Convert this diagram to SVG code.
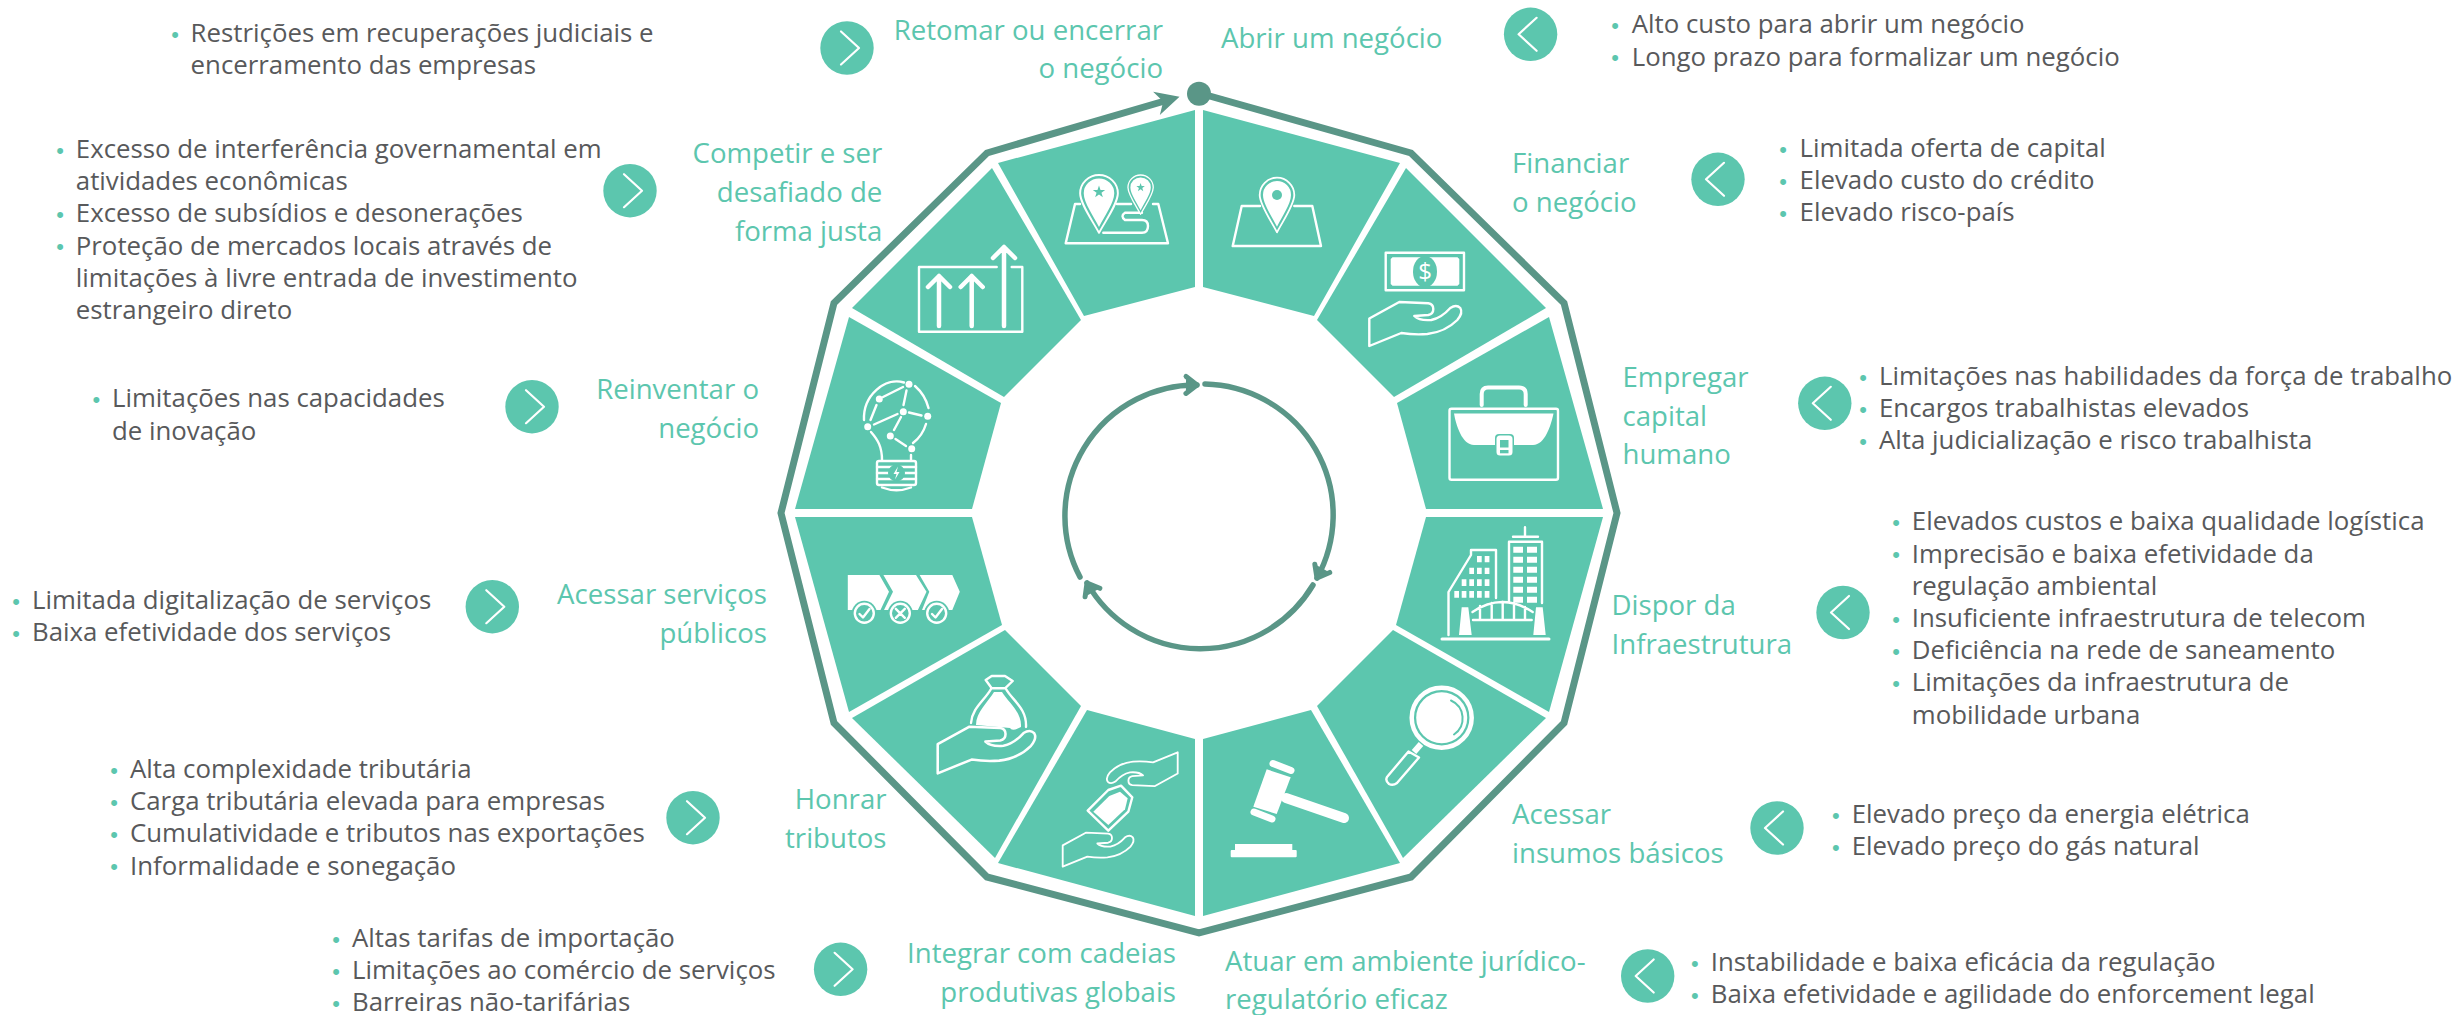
<svg xmlns="http://www.w3.org/2000/svg" xmlns:xlink="http://www.w3.org/1999/xlink" width="2461" height="1015" viewBox="0 0 2461 1015">
<style>
text{font-family:"Open Sans","Noto Sans",sans-serif}
.b{font-size:25.8px;fill:#58595b}
.d{font-size:22px;fill:#5cc6ae;text-anchor:middle;font-family:"Liberation Sans",sans-serif}
.l{font-size:27.6px;fill:#5cc6ae}
.e{text-anchor:end}
.s{fill:#5cc6ae}
.w{fill:none;stroke:#fff;stroke-width:2.4;stroke-linecap:round;stroke-linejoin:round}
.t{stroke:none;fill:#fff}
.g{stroke:none;fill:#5cc6ae}
.c{fill:#5cc6ae}
.v{fill:none;stroke:#fff;stroke-width:2.2;stroke-linecap:round;stroke-linejoin:round}
.o{fill:none;stroke:#5a9687;stroke-width:7;stroke-linejoin:miter}
.a{fill:none;stroke:#5a9687;stroke-width:5.5;stroke-linecap:round}
</style>
<defs>
<marker id="chev" viewBox="-16 -12 20 24" markerWidth="20" markerHeight="24" refX="0" refY="0" markerUnits="userSpaceOnUse" orient="auto" overflow="visible"><path d="M-11,-8.5 L0,0 L-11,8.5" fill="#5a9687" stroke="#5a9687" stroke-width="5" stroke-linecap="round" stroke-linejoin="round"/></marker>
<marker id="head" viewBox="-14 -14 28 28" markerWidth="28" markerHeight="28" refX="0" refY="0" markerUnits="userSpaceOnUse" orient="auto" overflow="visible"><path d="M12,0 L-12,-12 L-5,0 L-12,12Z" fill="#5a9687"/></marker>
<path id="hand" d="M0 44V16.5L30 0L59 1.3Q64 2 64 7Q64 12 59 13L45 14Q50 19 62 18Q72 16 81 6Q87 2 91 6Q94 11 88 18Q76 30 58 32Q45 33 32 31Z"/>
<g id="pin"><path d="M0 54.6C-6 43-17.3 27-17.3 17.3A17.3 17.3 0 0 1 17.3 17.3C17.3 27 6 43 0 54.6Z" fill="#5cc6ae" stroke="#fff" stroke-width="1.8" stroke-linejoin="round"/><path d="M0 49C-5 39-14 26-14 17.3A14 14 0 0 1 14 17.3C14 26 5 39 0 49Z" fill="#fff"/></g>
<path id="star" d="M0-1L.235-.324L.95-.31L.38 .124L.59 .81L0 .4L-.59 .81L-.38 .124L-.95-.31L-.235-.324Z" fill="#5cc6ae"/>
<path id="cr" d="M-6-16.5L12 0L-6 16.5"/>
<path id="cl" d="M6-16.5L-12 0L6 16.5"/>
</defs>
<rect width="2461" height="1015" fill="#fff"/>
<g id="connectors">
<path class="o" d="M1199,93 L1411,153 L1564,303 L1617,513 L1564,723 L1411,877 L1199,933 L987,877 L834,723 L781,513 L834,303 L987,153 L1168,100" marker-end="url(#head)"/>
<circle cx="1199" cy="93.7" r="12" fill="#5a9687"/>
<path class="a" d="M1205,384 A131,131 0 0 1 1317,578" marker-end="url(#chev)"/>
<path class="a" d="M1313,585 A131,131 0 0 1 1087,583" marker-end="url(#chev)"/>
<path class="a" d="M1080,577 A131,131 0 0 1 1197,385" marker-end="url(#chev)"/>
</g>
<g id="node-abrir">
<polygon class="s" points="1203,110 1400,163 1314,316 1203,287"/>
<path class="w" d="M1260,206H1241.7L1232.7,246H1321L1312.3,206H1294.3"/>
<use xlink:href="#pin" href="#pin" x="1277" y="177.7"/>
<circle class="g" cx="1277" cy="195" r="5"/>
<text class="l" x="1221" y="48">Abrir um negócio</text>
<circle class="c" cx="1530.6" cy="34.3" r="26.7"/><use xlink:href="#cl" href="#cl" class="v" x="1530.6" y="34.3"/>
<text class="d" x="1615" y="33">•</text><text class="b" x="1631.7" y="33.3">Alto custo para abrir um negócio</text>
<text class="d" x="1615" y="65">•</text><text class="b" x="1631.7" y="65.5">Longo prazo para formalizar um negócio</text>
</g>
<g id="node-financiar">
<polygon class="s" points="1406,168 1546,308 1394,397 1317,320"/>
<rect class="w" x="1385.7" y="252.7" width="78.3" height="37.6"/>
<path class="t" d="M1392.5,257.3H1457.5L1459.3,259V284L1457.5,285.7H1392.5L1390.7,284V259Z"/>
<ellipse class="g" cx="1425" cy="271.7" rx="12" ry="15.7"/>
<text x="1425" y="280" font-size="24" fill="#fff" text-anchor="middle">$</text>
<use xlink:href="#hand" href="#hand" class="w" transform="translate(1369.3,302)"/>
<text class="l" x="1512" y="173.3">Financiar</text><text class="l" x="1512" y="211.7">o negócio</text>
<circle class="c" cx="1718" cy="179.3" r="26.7"/><use xlink:href="#cl" href="#cl" class="v" x="1718" y="179.3"/>
<text class="d" x="1783" y="156.5">•</text><text class="b" x="1799.6" y="156.7">Limitada oferta de capital</text>
<text class="d" x="1783" y="188.7">•</text><text class="b" x="1799.6" y="188.9">Elevado custo do crédito</text>
<text class="d" x="1783" y="220.9">•</text><text class="b" x="1799.6" y="221.1">Elevado risco-país</text>
</g>
<g id="node-empregar">
<polygon class="s" points="1549,317 1603,509 1426,509 1397,403"/>
<rect class="w" x="1449.5" y="408.8" width="108.5" height="71" rx="2"/>
<path class="w" style="stroke-width:4" d="M1481.7,405V394Q1481.7,387.5 1488,387.5H1519Q1525.7,387.5 1525.7,394V405"/>
<path class="t" d="M1454,413.5H1553.5C1551,425 1545,445 1533,445H1474C1462,445 1456,425 1454,413.5Z"/>
<rect x="1495" y="434" width="19" height="23" rx="4" fill="#5cc6ae"/>
<rect x="1496.5" y="435.5" width="16" height="20" rx="3.5" fill="#fff"/>
<rect class="g" x="1500" y="440" width="8.5" height="7.5"/><rect class="g" x="1500" y="450" width="8.5" height="3.3"/>
<text class="l" x="1622.5" y="387">Empregar</text><text class="l" x="1622.5" y="425.5">capital</text><text class="l" x="1622.5" y="464">humano</text>
<circle class="c" cx="1824.8" cy="403.3" r="26.7"/><use xlink:href="#cl" href="#cl" class="v" x="1824.8" y="403.3"/>
<text class="d" x="1863" y="385">•</text><text class="b" x="1879" y="385">Limitações nas habilidades da força de trabalho</text>
<text class="d" x="1863" y="417">•</text><text class="b" x="1879" y="417.2">Encargos trabalhistas elevados</text>
<text class="d" x="1863" y="449">•</text><text class="b" x="1879" y="449.4">Alta judicialização e risco trabalhista</text>
</g>
<g id="node-dispor">
<polygon class="s" points="1603,517 1426,517 1396,625 1549,712"/>
<path class="w" d="M1448.5,635V592L1471,555V550H1496V598"/>
<path class="w" d="M1509,601V541.7H1542V603M1513,536.7H1538M1525,527.3V536.7"/>
<path class="t" d="M1513.3,546.7h9.7v6h-9.7zM1527,546.7h10v6h-10zM1513.3,556.7h9.7v6h-9.7zM1527,556.7h10v6h-10zM1513.3,566.7h9.7v6h-9.7zM1527,566.7h10v6h-10zM1513.3,576.7h9.7v6h-9.7zM1527,576.7h10v6h-10zM1513.3,586.7h9.7v6h-9.7zM1527,586.7h10v6h-10zM1513.3,596.7h9.7v6h-9.7zM1527,596.7h10v6h-10z"/>
<path class="t" d="M1477,556h4.7v6.3h-4.7zM1484.7,556h4.7v6.3h-4.7zM1469.3,567.7h4.7v6.3h-4.7zM1477,567.7h4.7v6.3h-4.7zM1484.7,567.7h4.7v6.3h-4.7zM1461.7,579.3h4.7v6.7h-4.7zM1469.3,579.3h4.7v6.7h-4.7zM1477,579.3h4.7v6.7h-4.7zM1484.7,579.3h4.7v6.7h-4.7zM1454.3,591h4.7v6.7h-4.7zM1461.7,591h4.7v6.7h-4.7zM1469.3,591h4.7v6.7h-4.7zM1477,591h4.7v6.7h-4.7zM1484.7,591h4.7v6.7h-4.7z"/>
<path class="t" d="M1461.7,607.3H1468.3L1471.7,635H1459ZM1536,607.3H1542.7L1545.7,635H1533.3Z"/>
<path class="w" d="M1472.5,612Q1502,592 1532.7,612M1473,620H1531.7M1480,606V620M1491.7,603V620M1502.7,602V620M1514,603V620M1525,607V620"/>
<path class="w" style="stroke-width:3" d="M1442,639H1549"/>
<text class="l" x="1611.5" y="615">Dispor da</text><text class="l" x="1611.5" y="653.5">Infraestrutura</text>
<circle class="c" cx="1843" cy="612.5" r="26.7"/><use xlink:href="#cl" href="#cl" class="v" x="1843" y="612.5"/>
<text class="d" x="1896" y="530">•</text><text class="b" x="1911.8" y="530.3">Elevados custos e baixa qualidade logística</text>
<text class="d" x="1896" y="562">•</text><text class="b" x="1911.8" y="562.5">Imprecisão e baixa efetividade da</text>
<text class="b" x="1911.8" y="594.7">regulação ambiental</text>
<text class="d" x="1896" y="627">•</text><text class="b" x="1911.8" y="627">Insuficiente infraestrutura de telecom</text>
<text class="d" x="1896" y="659">•</text><text class="b" x="1911.8" y="659.2">Deficiência na rede de saneamento</text>
<text class="d" x="1896" y="691">•</text><text class="b" x="1911.8" y="691.4">Limitações da infraestrutura de</text>
<text class="b" x="1911.8" y="723.6">mobilidade urbana</text>
</g>
<g id="node-insumos">
<polygon class="s" points="1546,718 1393,630 1317,706 1403,858"/>
<circle cx="1441.7" cy="717.7" r="30" fill="none" stroke="#fff" stroke-width="4.5"/>
<circle cx="1441.7" cy="717.7" r="25.5" fill="#fff"/>
<path d="M1451,700.5A19.5,19.5 0 0 1 1454,734.5" fill="none" stroke="#5cc6ae" stroke-width="2" stroke-linecap="round"/>
<path d="M1421,744L1414,752" stroke="#fff" stroke-width="6"/>
<path class="w" d="M1408.5,751.5L1419,757.5L1397,783Q1393,786 1389,784Q1385,781 1387,777Z"/>
<text class="l" x="1512" y="823.5">Acessar</text><text class="l" x="1512" y="862.5">insumos básicos</text>
<circle class="c" cx="1777" cy="828" r="26.7"/><use xlink:href="#cl" href="#cl" class="v" x="1777" y="828"/>
<text class="d" x="1835.8" y="822.5">•</text><text class="b" x="1851.7" y="822.5">Elevado preço da energia elétrica</text>
<text class="d" x="1835.8" y="854.5">•</text><text class="b" x="1851.7" y="854.7">Elevado preço do gás natural</text>
</g>
<g id="node-atuar">
<polygon class="s" points="1311,710 1400,863 1203,916 1203,739"/>
<path class="t" d="M1266.7,769.3L1290.7,777.3L1276.7,814L1253.3,806.7Z"/>
<path d="M1273,763.5L1291,770.5M1254,812L1272,819" stroke="#fff" stroke-width="7" stroke-linecap="round" fill="none"/>
<path d="M1286,798L1344,818" stroke="#fff" stroke-width="10" stroke-linecap="round" fill="none"/>
<path class="t" d="M1235,844H1292.3V850H1295.7Q1296.7,850 1296.7,851V856.3Q1296.7,857.3 1295.7,857.3H1231.7Q1230.7,857.3 1230.7,856.3V851Q1230.7,850 1231.7,850H1235Z"/>
<text class="l" x="1225" y="970.7">Atuar em ambiente jurídico-</text><text class="l" x="1225" y="1009">regulatório eficaz</text>
<circle class="c" cx="1647.7" cy="976" r="26.7"/><use xlink:href="#cl" href="#cl" class="v" x="1647.7" y="976"/>
<text class="d" x="1694.9" y="970.5">•</text><text class="b" x="1710.8" y="970.8">Instabilidade e baixa eficácia da regulação</text>
<text class="d" x="1694.9" y="1002.7">•</text><text class="b" x="1710.8" y="1003">Baixa efetividade e agilidade do enforcement legal</text>
</g>
<g id="node-integrar">
<polygon class="s" points="1087,710 998,863 1195,916 1195,739"/>
<use xlink:href="#hand" href="#hand" class="w" transform="translate(1177.7,786.2) rotate(180) scale(.77)"/>
<use xlink:href="#hand" href="#hand" class="w" transform="translate(1062.7,832.7) scale(.77)"/>
<path class="w" d="M1087.7,810.7L1108.3,830.7L1128.3,811.7L1132.3,797.3L1121,785.7L1108.3,790Z"/>
<path class="t" d="M1093.3,811.7L1108.3,825L1125,809.3L1127.7,798.3L1120,791.7L1109.3,796Z"/>
<text class="l e" x="1176" y="963">Integrar com cadeias</text><text class="l e" x="1176" y="1001.5">produtivas globais</text>
<circle class="c" cx="840.6" cy="969.3" r="26.7"/><use xlink:href="#cr" href="#cr" class="v" x="840.6" y="969.3"/>
<text class="d" x="336" y="946.5">•</text><text class="b" x="352" y="946.7">Altas tarifas de importação</text>
<text class="d" x="336" y="978.7">•</text><text class="b" x="352" y="978.9">Limitações ao comércio de serviços</text>
<text class="d" x="336" y="1010.9">•</text><text class="b" x="352" y="1011.1">Barreiras não-tarifárias</text>
</g>
<g id="node-honrar">
<polygon class="s" points="852,718 1005,630 1081,706 995,858"/>
<path class="w" d="M985.7,680L991.7,676H1005L1012.7,681L1005,688.3H991.7Z M991,689C985,700 972,708 971,723M1006,689C1012,700 1027,708 1026,727"/>
<path class="t" d="M994,692H1002C1008,702 1022,712 1021,727Q1012,732 1010,728L976,725C976,712 988,702 994,692Z"/>
<use xlink:href="#hand" href="#hand" class="w" style="fill:#5cc6ae" transform="translate(937.7,726.7) scale(1.06)"/>
<text class="l e" x="886.5" y="809">Honrar</text><text class="l e" x="886.5" y="847.7">tributos</text>
<circle class="c" cx="693" cy="817.7" r="26.7"/><use xlink:href="#cr" href="#cr" class="v" x="693" y="817.7"/>
<text class="d" x="114" y="778">•</text><text class="b" x="130" y="778">Alta complexidade tributária</text>
<text class="d" x="114" y="810">•</text><text class="b" x="130" y="810.2">Carga tributária elevada para empresas</text>
<text class="d" x="114" y="842">•</text><text class="b" x="130" y="842.4">Cumulatividade e tributos nas exportações</text>
<text class="d" x="114" y="874">•</text><text class="b" x="130" y="874.6">Informalidade e sonegação</text>
</g>
<g id="node-servicos">
<polygon class="s" points="795,517 972,517 1002,625 849,712"/>
<path class="t" d="M847.8,575H879.4L889,591.7L880.5,610H847.8ZM883.4,575H916L926.5,591.7L917.9,610H884L893,591.7ZM919.6,575H952.3L959.8,591.7L952.3,610H922L929.3,591.7Z"/>
<circle class="g" cx="864.3" cy="613.3" r="12.5"/><circle class="g" cx="900.3" cy="613.3" r="12.5"/><circle class="g" cx="936.7" cy="613.3" r="12.5"/>
<circle class="w" cx="864.3" cy="613.3" r="9.5"/><circle class="w" cx="900.3" cy="613.3" r="9.5"/><circle class="w" cx="936.7" cy="613.3" r="9.5"/>
<path class="w" d="M859.5,614L863,617.5L869.5,609M895.8,608.8L904.8,617.8M904.8,608.8L895.8,617.8M932,614L935.5,617.5L942,609"/>
<text class="l e" x="767" y="604">Acessar serviços</text><text class="l e" x="767" y="642.5">públicos</text>
<circle class="c" cx="492.3" cy="606.7" r="26.7"/><use xlink:href="#cr" href="#cr" class="v" x="492.3" y="606.7"/>
<text class="d" x="16" y="609">•</text><text class="b" x="32" y="609">Limitada digitalização de serviços</text>
<text class="d" x="16" y="641">•</text><text class="b" x="32" y="641.2">Baixa efetividade dos serviços</text>
</g>
<g id="node-reinventar">
<polygon class="s" points="849,317 795,509 972,509 1001,403"/>
<path class="w" d="M904,382.5C885,377 863,395 864,420M915,386C923,393 927,402 928.5,408M926,424C923,434 917,440 913,443M871,432C878,440 882,447 882,460M911,455V460"/>
<path class="w" d="M883,397L903,387M906.5,390.5L903.5,405M876.5,405L870.5,420M874,424.5L897.5,414M909,412.5L921.5,415.5M901,417L894,430M895.5,439L906,446"/>
<circle cx="909" cy="384.3" r="3.5" fill="#fff"/><circle cx="879.3" cy="399" r="3.5" fill="#fff"/><circle cx="903.3" cy="411.7" r="3.5" fill="#fff"/><circle cx="927.7" cy="416.3" r="3.5" fill="#fff"/><circle cx="867.7" cy="426.7" r="3.5" fill="#fff"/><circle cx="890.3" cy="436" r="3.5" fill="#fff"/><circle cx="911.7" cy="448.7" r="3.5" fill="#fff"/>
<rect class="w" x="877" y="461" width="39" height="24" rx="2"/>
<path class="w" d="M877,467H916M877,473H916M877,479H916"/>
<circle class="g" cx="896.5" cy="473" r="8.5"/>
<path class="t" d="M898,466.5L893.5,474H896.5L895,479.5L899.5,472H896.5Z"/>
<path class="w" d="M882,487.5Q896.5,493 911,487.5"/>
<text class="l e" x="759" y="399">Reinventar o</text><text class="l e" x="759" y="437.5">negócio</text>
<circle class="c" cx="532" cy="406.7" r="26.7"/><use xlink:href="#cr" href="#cr" class="v" x="532" y="406.7"/>
<text class="d" x="96.4" y="407">•</text><text class="b" x="112" y="407.3">Limitações nas capacidades</text>
<text class="b" x="112" y="439.5">de inovação</text>
</g>
<g id="node-competir">
<polygon class="s" points="992,168 852,308 1004,397 1081,320"/>
<path class="w" d="M996.7,267H919V331.7H1022.3V267H1011.7"/>
<path d="M939,326V276M928,287L939,276L950,287M971.7,326V276M960.7,287L971.7,276L982.7,287M1004,326V247M993,258L1004,247L1015,258" fill="none" stroke="#fff" stroke-width="4.5" stroke-linecap="round" stroke-linejoin="round"/>
<text class="l e" x="882.3" y="163.3">Competir e ser</text><text class="l e" x="882.3" y="202">desafiado de</text><text class="l e" x="882.3" y="240.5">forma justa</text>
<circle class="c" cx="630" cy="190.7" r="26.7"/><use xlink:href="#cr" href="#cr" class="v" x="630" y="190.7"/>
<text class="d" x="60" y="158">•</text><text class="b" x="75.8" y="158">Excesso de interferência governamental em</text>
<text class="b" x="75.8" y="190.2">atividades econômicas</text>
<text class="d" x="60" y="222">•</text><text class="b" x="75.8" y="222.4">Excesso de subsídios e desonerações</text>
<text class="d" x="60" y="254">•</text><text class="b" x="75.8" y="254.6">Proteção de mercados locais através de</text>
<text class="b" x="75.8" y="286.8">limitações à livre entrada de investimento</text>
<text class="b" x="75.8" y="319">estrangeiro direto</text>
</g>
<g id="node-retomar">
<polygon class="s" points="1195,110 998,163 1084,316 1195,287"/>
<path class="w" d="M1080,204H1075L1065.7,243.3H1168L1158.3,204H1153M1117,204H1131"/>
<path class="w" d="M1103.3,232.7H1142Q1148,232.7 1148,226Q1148,220 1142,220H1125Q1120,216 1125,212.7H1142"/>
<use xlink:href="#pin" href="#pin" transform="translate(1099,175) scale(1.09,1.06)"/>
<use xlink:href="#star" href="#star" transform="translate(1099,192) scale(6.5)"/>
<use xlink:href="#pin" href="#pin" transform="translate(1140.6,175) scale(.73,.72)"/>
<use xlink:href="#star" href="#star" transform="translate(1140.6,187.5) scale(4.5)"/>
<text class="l e" x="1163" y="39.5">Retomar ou encerrar</text><text class="l e" x="1163" y="78">o negócio</text>
<circle class="c" cx="847" cy="48" r="26.7"/><use xlink:href="#cr" href="#cr" class="v" x="847" y="48"/>
<text class="d" x="175" y="42">•</text><text class="b" x="190.6" y="41.7">Restrições em recuperações judiciais e</text>
<text class="b" x="190.6" y="73.9">encerramento das empresas</text>
</g>
</svg>
